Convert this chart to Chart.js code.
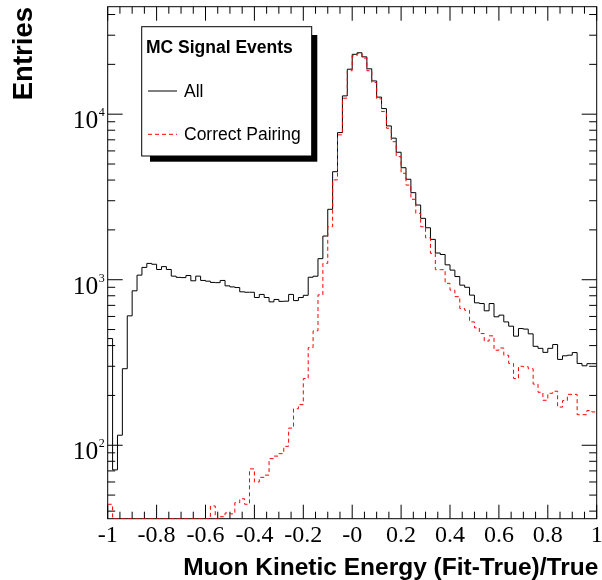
<!DOCTYPE html>
<html><head><meta charset="utf-8">
<script src="https://cdn.jsdelivr.net/npm/chart.js@4/dist/chart.umd.min.js"></script>
<style>html,body{margin:0;padding:0;background:#fff}canvas{display:block}</style>
</head><body>
<canvas id="c" width="602" height="580"></canvas>
<script>
// Bin low edges: 100 bins of width 0.02 from -1 to 1 (plus upper edge 1)
const binEdges = Array.from({length: 101}, (_, i) => +(-1 + i * 0.02).toFixed(2));

const allEntries = [
  441, 71, 115, 290, 605, 857, 1066, 1187, 1255, 1240,
  1153, 1200, 1153, 1051, 1033, 1030, 1060, 985, 1051, 990,
  980, 963, 960, 990, 918, 905, 897, 845, 840, 840,
  781, 815, 781, 735, 760, 740, 742, 815, 748, 781,
  805, 1035, 1050, 1340, 1836, 2663, 4494, 7740, 12900, 18700,
  23000, 23500, 22200, 18800, 15880, 12680, 10810, 8495, 7165, 5890,
  4750, 4045, 3357, 2827, 2349, 2060, 1753, 1450, 1420, 1230,
  1143, 1045, 927, 900, 807, 725, 718, 649, 718, 597,
  611, 556, 524, 456, 507, 503, 471, 396, 385, 364,
  385, 406, 330, 347, 350, 363, 312, 302, 311, 311
];

// values at the axis floor (36) are empty bins drawn along the bottom frame
const correctPairing = [
  44, 36, 36, 36, 36, 36, 36, 36, 36, 36,
  36, 36, 36, 36, 36, 36, 36, 36, 36, 36,
  36, 43, 36, 37, 39, 38.5, 45, 47.5, 44, 72,
  60, 64, 66, 83, 86, 89, 98.5, 127, 166, 176,
  253, 389, 491, 810, 1256, 2089, 4008, 7500, 12500, 18300,
  22500, 23200, 21800, 18300, 15520, 12380, 10370, 8225, 6820, 5540,
  4397, 3730, 3060, 2519, 2089, 1790, 1443, 1150, 1150, 951,
  865, 790, 670, 654, 556, 512, 473, 426, 458, 375,
  387, 350, 312, 253, 300, 298, 290, 234, 209, 187,
  206, 212, 170, 186, 203, 203, 153, 153, 162, 159
];

const xMajorTicks = [-1, -0.8, -0.6, -0.4, -0.2, 0, 0.2, 0.4, 0.6, 0.8, 1];
const xTickLabels = ['-1', '-0.8', '-0.6', '-0.4', '-0.2', '-0', '0.2', '0.4', '0.6', '0.8', '1'];
const xMinorTicks = [-0.95,-0.9,-0.85,-0.75,-0.7,-0.65,-0.55,-0.5,-0.45,-0.35,-0.3,-0.25,-0.15,-0.1,-0.05,
                     0.05,0.1,0.15,0.25,0.3,0.35,0.45,0.5,0.55,0.65,0.7,0.75,0.85,0.9,0.95];
const yMajorTicks = [100, 1000, 10000];
const yTickExponents = ['2', '3', '4'];
const yMinorTicks = [40,50,60,70,80,90,200,300,400,500,600,700,800,900,
                     2000,3000,4000,5000,6000,7000,8000,9000,20000,30000,40000];
const legendTitle = 'MC Signal Events';
const legendLabels = ['All', 'Correct Pairing'];
const xTitle = 'Muon Kinetic Energy (Fit-True)/True';
const yTitle = 'Entries';

function toPoints(vals) {
  const pts = vals.map((v, i) => ({x: binEdges[i], y: v}));
  pts.push({x: binEdges[binEdges.length - 1], y: vals[vals.length - 1]});
  return pts;
}

const SANS = '"Liberation Sans", Arial, Helvetica, sans-serif';
const SERIF = '"Liberation Serif", "Times New Roman", Times, serif';

const rootFrame = {
  id: 'rootFrame',
  beforeDatasetsDraw(chart) {
    const {ctx, chartArea: a, scales: {x, y}} = chart;
    ctx.save();
    ctx.strokeStyle = '#000';
    ctx.lineWidth = 1;
    ctx.strokeRect(a.left, a.top, a.right - a.left, a.bottom - a.top);
    ctx.beginPath();
    const tick = (px, len, vertical) => {
      if (vertical) {
        ctx.moveTo(px, a.bottom); ctx.lineTo(px, a.bottom - len);
        ctx.moveTo(px, a.top); ctx.lineTo(px, a.top + len);
      } else {
        ctx.moveTo(a.left, px); ctx.lineTo(a.left + len, px);
        ctx.moveTo(a.right, px); ctx.lineTo(a.right - len, px);
      }
    };
    xMajorTicks.forEach(v => tick(x.getPixelForValue(v), 14, true));
    xMinorTicks.forEach(v => tick(x.getPixelForValue(v), 7, true));
    yMajorTicks.forEach(v => tick(y.getPixelForValue(v), 15, false));
    yMinorTicks.forEach(v => tick(y.getPixelForValue(v), 7.5, false));
    ctx.stroke();
    ctx.restore();
  },
  afterDraw(chart) {
    const {ctx, chartArea: a, scales: {x, y}} = chart;
    ctx.save();
    ctx.fillStyle = '#000';
    // x tick labels
    ctx.font = '24px ' + SERIF;
    ctx.textAlign = 'center';
    ctx.textBaseline = 'alphabetic';
    xMajorTicks.forEach((v, i) => ctx.fillText(xTickLabels[i], x.getPixelForValue(v), a.bottom + 23));
    // y tick labels 10^n
    yMajorTicks.forEach((v, i) => {
      const py = y.getPixelForValue(v);
      ctx.font = '25.5px ' + SERIF;
      ctx.textAlign = 'right';
      ctx.fillText('10', a.left - 9.4, py + 14);
      ctx.font = '12px ' + SERIF;
      ctx.textAlign = 'left';
      ctx.fillText(yTickExponents[i], a.left - 9, py + 2);
    });
    // axis titles
    ctx.font = 'bold 24.5px ' + SANS;
    ctx.textAlign = 'right';
    ctx.fillText(xTitle, 598.3, 575);
    ctx.save();
    ctx.translate(32.3, 7);
    ctx.rotate(-Math.PI / 2);
    ctx.font = 'bold 27.5px ' + SANS;
    ctx.textAlign = 'right';
    ctx.fillText(yTitle, 0, 0);
    ctx.restore();
    // legend with shadow
    ctx.fillStyle = '#000';
    ctx.fillRect(150, 35, 167.3, 126.7);
    ctx.fillStyle = '#fff';
    ctx.fillRect(141.7, 26.7, 170, 129.3);
    ctx.strokeStyle = '#000';
    ctx.lineWidth = 1;
    ctx.strokeRect(141.7, 26.7, 170, 129.3);
    ctx.fillStyle = '#000';
    ctx.textAlign = 'left';
    ctx.font = 'bold 17.5px ' + SANS;
    ctx.fillText(legendTitle, 146, 53.3);
    ctx.font = '17.5px ' + SANS;
    ctx.fillText(legendLabels[0], 184, 97.3);
    ctx.fillText(legendLabels[1], 184, 140);
    ctx.beginPath();
    ctx.moveTo(148, 91); ctx.lineTo(177, 91);
    ctx.strokeStyle = '#000';
    ctx.stroke();
    ctx.beginPath();
    ctx.setLineDash([4, 3]);
    ctx.moveTo(148, 134.3); ctx.lineTo(177, 134.3);
    ctx.strokeStyle = '#ff0000';
    ctx.stroke();
    ctx.restore();
  }
};

new Chart(document.getElementById('c'), {
  type: 'line',
  data: {
    datasets: [
      {label: legendLabels[0], data: toPoints(allEntries), borderColor: '#000', borderWidth: 1,
       stepped: 'before', pointRadius: 0, fill: false, order: 2},
      {label: legendLabels[1], data: toPoints(correctPairing), borderColor: '#ff0000', borderWidth: 1,
       borderDash: [4, 3], stepped: 'before', pointRadius: 0, fill: false, order: 1}
    ]
  },
  options: {
    responsive: false,
    animation: false,
    devicePixelRatio: 1,
    layout: {padding: {left: 107.7, right: 5.3, top: 6.7, bottom: 61.3}},
    plugins: {legend: {display: false}, tooltip: {enabled: false}},
    scales: {
      x: {type: 'linear', min: -1, max: 1, display: false},
      y: {type: 'logarithmic', min: 36, max: 44600, display: false}
    },
    elements: {line: {tension: 0}}
  },
  plugins: [rootFrame]
});
</script>
</body></html>
